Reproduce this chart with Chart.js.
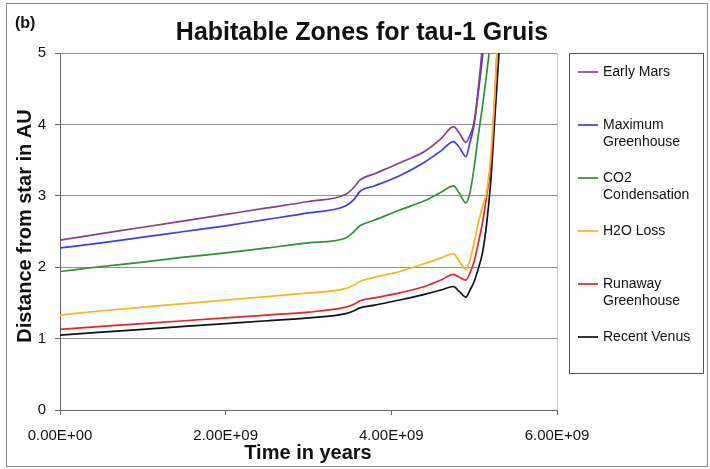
<!DOCTYPE html>
<html>
<head>
<meta charset="utf-8">
<script src="https://cdn.jsdelivr.net/npm/chart.js@4.4.1/dist/chart.umd.min.js"></script>
<style>
  html, body { margin: 0; padding: 0; background: #fff; }
  canvas { display: block; }
</style>
</head>
<body>
<canvas id="c" width="710" height="469"></canvas>
<script>
// ---- data (time in units of 1e9 years, distance in AU) ----
const timeGyr = [0, 0.5, 1, 1.5, 2, 2.5, 3, 3.45, 3.55, 3.62, 3.8, 4.1, 4.4, 4.6, 4.75, 4.82, 4.9, 4.95, 5.0, 5.05, 5.1, 5.15, 5.2, 5.25, 5.3, 5.35];

const earlyMars      = [2.38, 2.47, 2.56, 2.65, 2.74, 2.83, 2.92, 3.02, 3.12, 3.22, 3.31, 3.46, 3.62, 3.80, 3.97, 3.88, 3.75, 3.85, 4.04, 4.50, 5.10, null, null, null, null, null];
const maxGreenhouse  = [2.27, 2.34, 2.42, 2.50, 2.58, 2.67, 2.76, 2.86, 2.95, 3.06, 3.14, 3.28, 3.47, 3.63, 3.76, 3.68, 3.55, 3.75, 4.00, 4.45, 4.95, 5.60, null, null, null, null];
const co2Condensation= [1.94, 2.01, 2.07, 2.14, 2.20, 2.27, 2.34, 2.41, 2.50, 2.58, 2.66, 2.80, 2.93, 3.05, 3.14, 3.04, 2.90, 3.05, 3.40, 3.85, 4.25, 4.70, 5.20, null, null, null];
const h2oLoss        = [1.33, 1.39, 1.44, 1.49, 1.54, 1.59, 1.64, 1.70, 1.75, 1.80, 1.86, 1.94, 2.05, 2.13, 2.19, 2.08, 1.97, 2.10, 2.35, 2.62, 2.85, 3.05, 3.55, 4.45, 5.60, null];
const runawayGH      = [1.13, 1.17, 1.21, 1.25, 1.29, 1.33, 1.37, 1.44, 1.48, 1.53, 1.57, 1.64, 1.73, 1.82, 1.90, 1.86, 1.82, 1.92, 2.08, 2.34, 2.62, 3.00, 3.45, 4.40, 5.60, null];
const recentVenus    = [1.05, 1.09, 1.13, 1.17, 1.21, 1.25, 1.29, 1.35, 1.39, 1.43, 1.47, 1.54, 1.62, 1.68, 1.73, 1.66, 1.58, 1.68, 1.80, 1.98, 2.20, 2.60, 3.20, 4.10, 5.00, 5.90];

const seriesLabels = [["Early Mars"], ["Maximum", "Greenhouse"], ["CO2", "Condensation"], ["H2O Loss"], ["Runaway", "Greenhouse"], ["Recent Venus"]];
const seriesValues = [earlyMars, maxGreenhouse, co2Condensation, h2oLoss, runawayGH, recentVenus];
const seriesColors = ["#86408a", "#3b3bf5", "#2f8f34", "#ffb21e", "#e4232b", "#111111"];

const xTicks = [0, 2e9, 4e9, 6e9];
const yTicks = [0, 1, 2, 3, 4, 5];

const chartTitle = "Habitable Zones for tau-1 Gruis";
const panelLabel = "(b)";
const xTitle = "Time in years";
const yTitle = "Distance from star in AU";

// ---- helpers ----
function fmtExp(v) {
  let s = Number(v).toExponential(2).toUpperCase();
  return s.replace(/E([+-])(\d)$/, "E$10$2");
}
const FONT = "'Liberation Sans', Arial, sans-serif";

const datasets = seriesValues.map((vals, i) => ({
  label: seriesLabels[i].join(" "),
  data: timeGyr.map((t, j) => ({ x: t * 1e9, y: vals[j] })),
  borderColor: seriesColors[i],
  backgroundColor: seriesColors[i],
  borderWidth: 1.7,
  pointRadius: 0,
  cubicInterpolationMode: "monotone",
  spanGaps: false,
  fill: false
}));

const extras = {
  id: "extras",
  beforeDraw(chart) {
    const c = chart.ctx;
    c.save();
    c.fillStyle = "#fff";
    c.fillRect(0, 0, chart.width, chart.height);
    c.restore();
  },
  afterDraw(chart) {
    const c = chart.ctx;
    c.save();
    // outer frame
    c.strokeStyle = "#8a8a8a";
    c.lineWidth = 1;
    c.strokeRect(6.5, 3.5, 701, 463);
    // panel label
    c.fillStyle = "#111";
    c.font = "bold 16px " + FONT;
    c.textAlign = "left";
    c.textBaseline = "middle";
    c.fillText(panelLabel, 15, 24);
    // title
    c.font = "bold 25px " + FONT;
    c.textAlign = "center";
    c.fillText(chartTitle, 362, 33);
    // x title
    c.font = "bold 20px " + FONT;
    c.fillText(xTitle, 308, 453);
    // y title
    c.save();
    c.translate(25, 226);
    c.rotate(-Math.PI / 2);
    c.fillText(yTitle, 0, 0);
    c.restore();
    // legend
    const bx = 569.5, by = 53.5, bw = 134, bh = 320;
    c.strokeStyle = "#555";
    c.lineWidth = 1;
    c.strokeRect(bx, by, bw, bh);
    c.font = "14px " + FONT;
    c.textAlign = "left";
    c.textBaseline = "middle";
    seriesLabels.forEach((lines, i) => {
      const y = 72 + i * 53;
      c.strokeStyle = seriesColors[i];
      c.lineWidth = 1.7;
      c.beginPath();
      c.moveTo(578, y);
      c.lineTo(598, y);
      c.stroke();
      c.fillStyle = "#111";
      lines.forEach((ln, k) => c.fillText(ln, 603, y + k * 17));
    });
    c.restore();
  }
};

new Chart(document.getElementById("c"), {
  type: "line",
  data: { datasets },
  plugins: [extras],
  options: {
    responsive: false,
    animation: false,
    layout: { padding: { left: 0, top: 53, right: 153, bottom: 0 } },
    plugins: { legend: { display: false }, title: { display: false }, tooltip: { enabled: false } },
    scales: {
      x: {
        type: "linear",
        min: 0, max: 6e9,
        afterFit(s) { s.height = 59; },
        afterBuildTicks(s) { s.ticks = xTicks.map(v => ({ value: v })); },
        ticks: {
          callback: v => fmtExp(v),
          font: { family: FONT, size: 15 },
          color: "#111",
          padding: 12,
          maxRotation: 0
        },
        grid: {
          color: ctx => (ctx.tick && ctx.tick.value === 6e9) ? "#c4c4c4" : "rgba(0,0,0,0)",
          tickColor: "#666",
          tickLength: 5,
          drawOnChartArea: true
        },
        border: { color: "#666", width: 1 }
      },
      y: {
        min: 0, max: 5,
        afterFit(s) { s.width = 60; },
        afterBuildTicks(s) { s.ticks = yTicks.map(v => ({ value: v })); },
        ticks: {
          font: { family: FONT, size: 15 },
          color: "#111",
          padding: 9
        },
        grid: {
          color: "#909090",
          tickColor: "#666",
          tickLength: 5
        },
        border: { color: "#666", width: 1 }
      }
    }
  }
});
</script>
</body>
</html>
